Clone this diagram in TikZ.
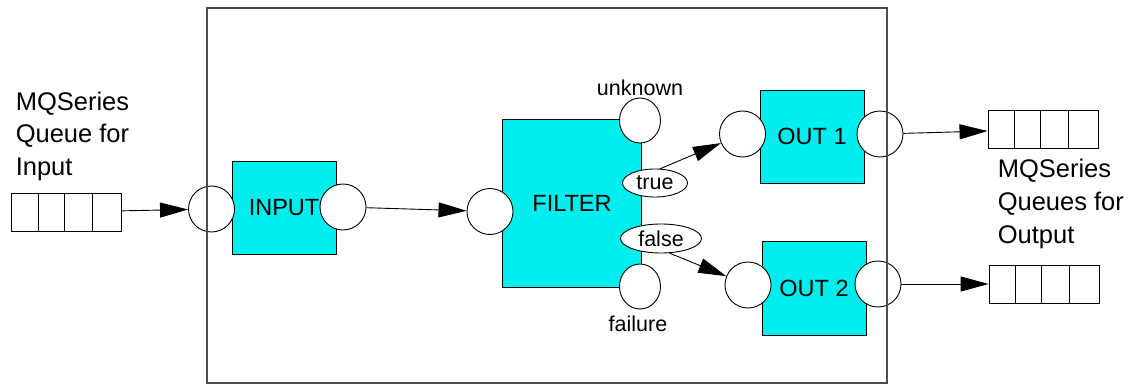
\documentclass[tikz,border=0pt]{standalone}
\usepackage{fontspec}
\setmainfont{Liberation Sans}
\usetikzlibrary{arrows.meta,shapes.geometric}
\definecolor{boxcyan}{RGB}{0,238,238}

\begin{document}
\begin{tikzpicture}[
  x=1pt, y=-1pt,
  line width=0.9pt,
  font=\fontsize{23.5}{28}\selectfont,
  block/.style={draw, fill=boxcyan, inner sep=0pt},
  port/.style={circle, draw, fill=white, inner sep=0pt, minimum size=46pt},
  outcome/.style={ellipse, draw, fill=white, inner sep=0pt},
  small/.style={font=\fontsize{21.5}{26}\selectfont},
  queue/.style={draw, inner sep=0pt, minimum width=110pt, minimum height=38pt},
  flow/.style={-{Triangle[length=28pt,width=15pt]}},
  caption/.style={align=left, anchor=base west, font=\fontsize{25.5}{33}\selectfont}
  ]
  \useasboundingbox (0,0) rectangle (1128,385);

  % the nodes of the flow
  \node[block, minimum width=104pt, minimum height=93pt] (input) at (284,207.5) {INPUT};
  \node[block, minimum width=139pt, minimum height=168pt] (filter) at (572,203) {FILTER};
  \node[block, minimum width=104pt, minimum height=93pt] (out1) at (812,136.5) {OUT 1};
  \node[block, minimum width=104pt, minimum height=94pt] (out2) at (814,288.5) {OUT 2};

  % terminals
  \node[port] (inL) at (211.5,209) {};
  \node[port] (inR) at (343,207) {};
  \node[port] (filL) at (490,211.5) {};
  \node[outcome, minimum width=41pt, minimum height=45pt] (unk) at (640,120.5) {};
  \node[outcome, minimum width=41pt, minimum height=45pt] (fai) at (640,286.5) {};
  \node[outcome, small, minimum width=65pt, minimum height=28pt] (tru) at (655,183) {true};
  \node[outcome, small, minimum width=81pt, minimum height=29pt] (fal) at (661,238.5) {false};
  \node[port] (o1L) at (742.5,134) {};
  \node[port] (o1R) at (880,134) {};
  \node[port] (o2L) at (748,285) {};
  \node[port] (o2R) at (878,284) {};

  \node[small, anchor=base] (unklabel) at (640,96) {unknown};
  \node[small, anchor=base] (failabel) at (638,331.5) {failure};

  % queues
  \node[queue] (inq) at (66.5,212) {};
  \node[queue] (q1) at (1043,129.5) {};
  \node[queue] (q2) at (1044,284) {};
  \foreach \q in {inq,q1,q2} {
    \foreach \d in {27,53,81} {
      \draw ([xshift=\d pt]\q.north west) -- ([xshift=\d pt]\q.south west);
    }
  }

  \node[caption] (inlabel) at (12,176) {MQSeries\\Queue for\\Input};
  \node[caption] (outlabel) at (994,243.5) {MQSeries\\Queues for\\Output};

  % message flow
  \draw[flow] (inq) -- (inL);
  \draw[flow] (inR) -- (filL);
  \draw[flow] (tru.70) -- (o1L);
  \draw[flow] (fal.-60) -- (o2L);
  \draw[flow] (o1R) -- (q1);
  \draw[flow] (o2R) -- (q2);

  % message flow boundary
  \draw[draw=black!70, line width=1.4pt] (207,8) rectangle (887,383);
\end{tikzpicture}
\end{document}
